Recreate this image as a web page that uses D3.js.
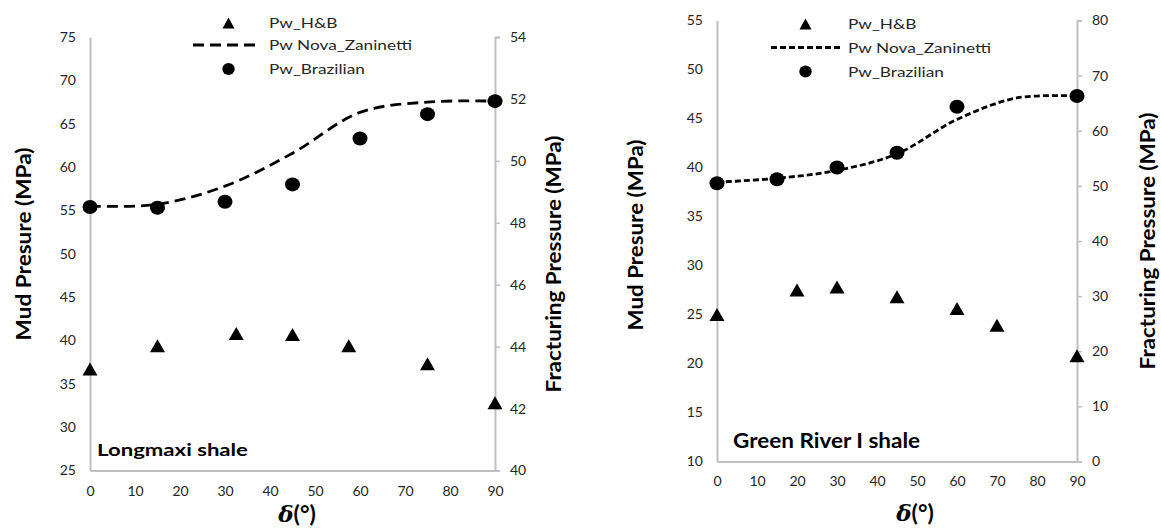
<!DOCTYPE html>
<html><head><meta charset="utf-8">
<script src="https://cdn.jsdelivr.net/npm/d3@7"></script>
<style>
html,body{margin:0;padding:0;background:#fff;}
svg{display:block;font-family:Lato,"Open Sans",sans-serif;}
</style></head>
<body>
<svg id="c" width="1161" height="528"></svg>
<script>
// ---- data ----
const xTicks = [0,10,20,30,40,50,60,70,80,90];
const legendLabels = ["Pw_H&B","Pw Nova_Zaninetti","Pw_Brazilian"];

// Longmaxi shale (left chart)
const lmTitle = "Longmaxi shale";
const lmLeftTicks = [25,30,35,40,45,50,55,60,65,70,75];
const lmRightTicks = [40,42,44,46,48,50,52,54];
const lmTriX = [0,15,32.5,45,57.5,75,90];
const lmTriY = [36.7,39.4,40.8,40.7,39.4,37.3,32.8];
const lmLineX = [0,15,30,45,60,75,90];
const lmLineY = [55.5,55.7,57.8,61.6,66.3,67.5,67.6];
const lmCircX = [0,15,30,45,60,75,90];
const lmCircY = [55.4,55.3,56.0,58.0,63.3,66.1,67.6];

// Green River I shale (right chart)
const grTitle = "Green River I shale";
const grLeftTicks = [10,15,20,25,30,35,40,45,50,55];
const grRightTicks = [0,10,20,30,40,50,60,70,80];
const grTriX = [0,20,30,45,60,70,90];
const grTriY = [25.0,27.5,27.8,26.8,25.6,23.9,20.8];
const grLineX = [0,15,30,45,60,75,90];
const grLineY = [38.5,38.9,39.7,41.4,44.9,47.1,47.3];
const grCircX = [0,15,30,45,60,90];
const grCircY = [38.4,38.8,40.0,41.5,46.2,47.3];

const svg = d3.select("#c");
const AX = "#bfbfbf", TXT = "#262626";
const CAP = 0.7165; // Lato cap-height ratio

function tri(x,y,w,h){
  return `M${x},${y-h/2}L${x+w/2},${y+h/2}L${x-w/2},${y+h/2}Z`;
}

function hText(g, str, x, yBase, cap, width, weight){
  const f = cap/CAP;
  const t = g.append("text").attr("x",0).attr("y",0).attr("fill", weight==="bold"?"#000":TXT)
    .style("font-size", f+"px").style("font-weight", weight||"normal").text(str);
  const len = t.node().getComputedTextLength();
  t.attr("transform",`translate(${x},${yBase}) scale(${width/len},1)`);
  return t;
}
function vText(g, str, cx, cy, len, cap){
  const t = g.append("text").attr("text-anchor","middle").attr("dy","0.35em").attr("fill","#000")
    .style("font-weight","bold").style("font-size","17px").text(str);
  const l0 = t.node().getComputedTextLength();
  const f = 17*len/l0;
  t.style("font-size", f+"px");
  t.attr("transform",`translate(${cx},${cy}) scale(${cap/(CAP*f)},1) rotate(-90)`);
  return t;
}

function chart(cfg){
  const g = svg.append("g");
  const x = d3.scaleLinear().domain([0,90]).range([cfg.x0,cfg.x1]);
  const yL = d3.scaleLinear().domain(cfg.leftDom).range([cfg.yb,cfg.yt]);
  const yR = d3.scaleLinear().domain(cfg.rightDom).range([cfg.yb,cfg.yt]);

  const la = g.append("g").attr("transform",`translate(${cfg.x0},0)`)
    .call(d3.axisLeft(yL).tickValues(cfg.leftTicks).tickSize(0).tickPadding(14));
  const ra = g.append("g").attr("transform",`translate(${cfg.x1},0)`)
    .call(d3.axisRight(yR).tickValues(cfg.rightTicks).tickSize(5).tickPadding(10));
  const ba = g.append("g").attr("transform",`translate(0,${cfg.yb})`)
    .call(d3.axisBottom(x).tickValues(xTicks).tickSize(0).tickPadding(cfg.xPad));
  [la,ra,ba].forEach(a=>{
    a.select(".domain").attr("stroke",AX).attr("stroke-width",2);
    a.selectAll(".tick line").attr("stroke",AX).attr("stroke-width",1.5);
    a.selectAll("text").attr("fill",TXT).style("font-size",cfg.tickFont+"px").style("font-family","Lato");
  });

  const line = d3.line().x(d=>x(d[0])).y(d=>yL(d[1])).curve(d3.curveCatmullRom.alpha(0.5));
  g.append("path").datum(cfg.lineX.map((v,i)=>[v,cfg.lineY[i]]))
    .attr("d",line).attr("fill","none").attr("stroke","#000")
    .attr("stroke-width",2.8).attr("stroke-dasharray",cfg.dash);

  g.selectAll(".tri").data(cfg.triX.map((v,i)=>[v,cfg.triY[i]])).join("path")
    .attr("d",d=>tri(x(d[0]),yL(d[1]),15,13)).attr("fill","#000");
  g.selectAll(".cir").data(cfg.circX.map((v,i)=>[v,cfg.circY[i]])).join("ellipse")
    .attr("cx",d=>x(d[0])).attr("cy",d=>yL(d[1])).attr("rx",7.5).attr("ry",7).attr("fill","#000");

  const L = cfg.legend;
  g.append("path").attr("d",tri(L.mx,L.y[0],12,11)).attr("fill","#000");
  g.append("line").attr("x1",L.d0).attr("x2",L.d1).attr("y1",L.y[1]).attr("y2",L.y[1])
    .attr("stroke","#000").attr("stroke-width",2.8).attr("stroke-dasharray",cfg.dash);
  g.append("ellipse").attr("cx",L.mx).attr("cy",L.y[2]).attr("rx",6.2).attr("ry",6).attr("fill","#000");
  const lt = legendLabels.map((t,i)=>hText(g,t,L.tx,L.y[i]+5,10,100));
  const probe = g.append("text").style("font-size",(10/CAP)+"px").text(legendLabels[1]);
  const s = 143/probe.node().getComputedTextLength(); probe.remove();
  lt.forEach((t,i)=>t.attr("transform",`translate(${L.tx},${L.y[i]+5}) scale(${s},1)`));

  hText(g, cfg.title, cfg.lab[0], cfg.lab[1], cfg.lab[2], cfg.lab[3], "bold");

  vText(g,"Mud Presure (MPa)",cfg.lt[0],cfg.lt[1],cfg.lt[2],15);
  vText(g,"Fracturing Pressure (MPa)",cfg.rt[0],cfg.rt[1],cfg.rt[2],15);

  const xt = g.append("text").attr("x",cfg.xt[0]).attr("y",cfg.xt[1])
    .attr("text-anchor","middle").attr("fill","#000").style("font-weight","bold");
  xt.append("tspan").style("font-family","'DejaVu Serif',serif").style("font-style","italic")
    .style("font-size","23px").text("δ");
  xt.append("tspan").style("font-size","23px").text("(°)");
}

chart({
  x0:90, x1:495, yt:37, yb:470.5, tickFont:14,
  leftDom:[25,75], rightDom:[40,54],
  leftTicks:lmLeftTicks, rightTicks:lmRightTicks, xPad:16,
  triX:lmTriX, triY:lmTriY, lineX:lmLineX, lineY:lmLineY, circX:lmCircX, circY:lmCircY,
  dash:"11,6",
  legend:{mx:228.5, d0:193, d1:258, tx:269, y:[23,45,69]},
  title:lmTitle, lab:[97,456,12.7,151],
  lt:[24,244,193], rt:[554,264,257], xt:[297,522]
});
chart({
  x0:717, x1:1077, yt:20.5, yb:461.5, tickFont:14,
  leftDom:[10,55], rightDom:[0,80],
  leftTicks:grLeftTicks, rightTicks:grRightTicks, xPad:15,
  triX:grTriX, triY:grTriY, lineX:grLineX, lineY:grLineY, circX:grCircX, circY:grCircY,
  dash:"6,3",
  legend:{mx:805.5, d0:771, d1:840, tx:848, y:[24,47.5,71.5]},
  title:grTitle, lab:[733,448,14.5,187],
  lt:[636,235,191], rt:[1148,241,257], xt:[915,521]
});
</script>
</body></html>
